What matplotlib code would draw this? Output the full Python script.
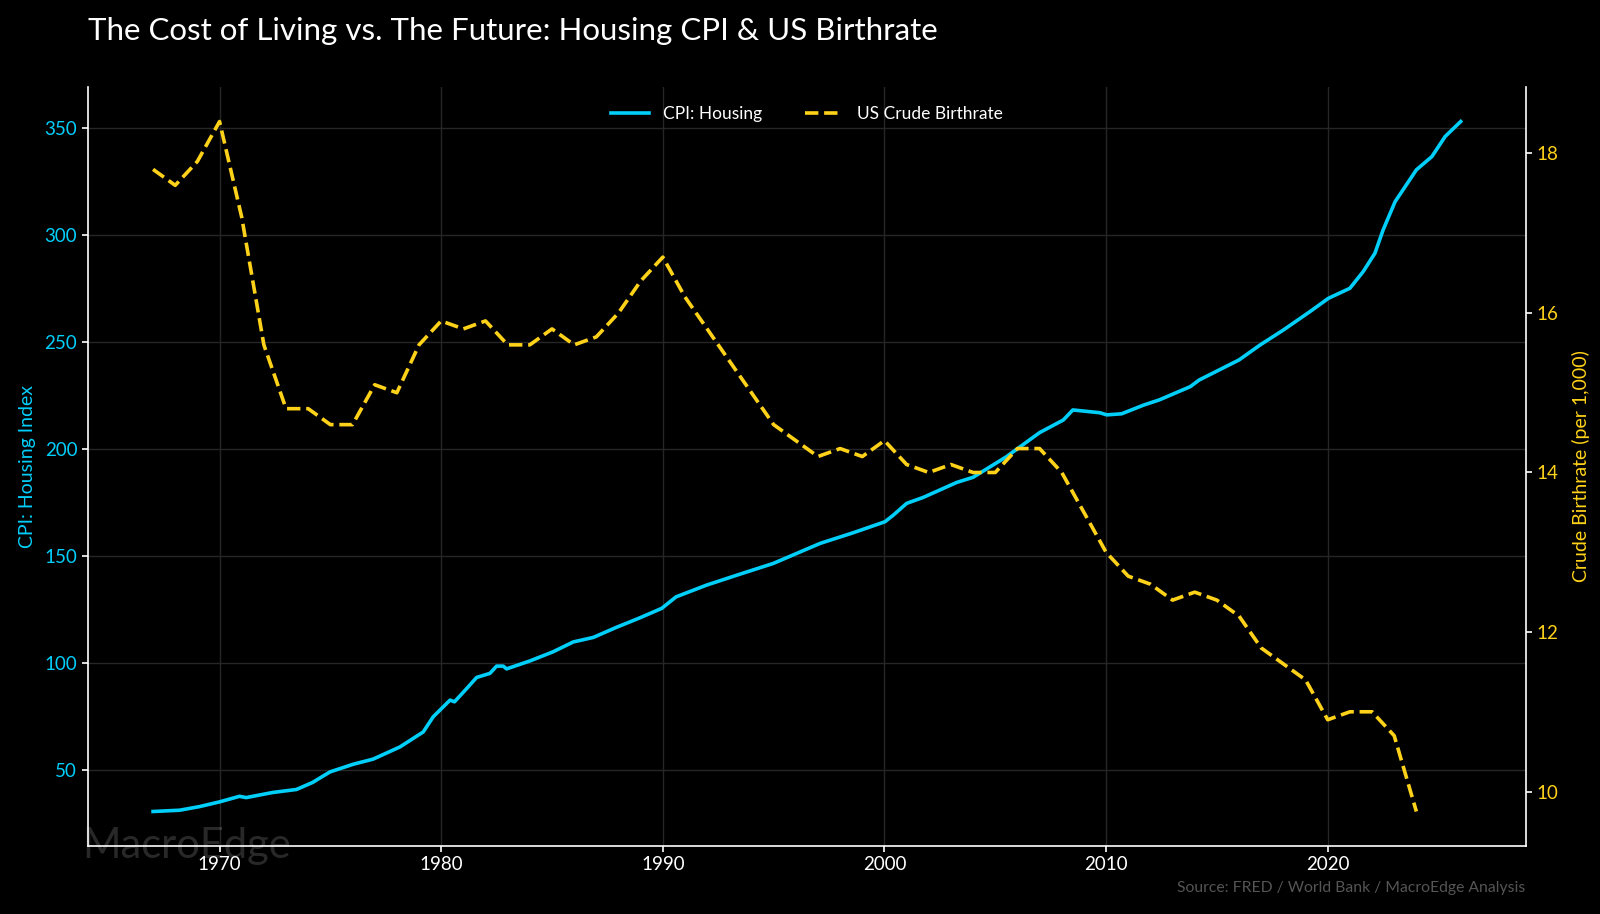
import matplotlib
matplotlib.use('Agg')
import matplotlib.pyplot as plt

plt.rcParams['font.family'] = ['Lato', 'DejaVu Sans']

# CPI: Housing (fractional years)
cpi_year = [1967.0, 1968.2, 1969.1, 1970.0, 1970.9, 1971.2, 1972.4, 1973.47, 1974.2, 1974.98,
            1976.03, 1976.93, 1978.14, 1979.19, 1979.64, 1980.4, 1980.6, 1981.15, 1981.6, 1982.2,
            1982.5, 1982.8, 1982.95, 1984.0, 1985.05, 1985.96, 1986.86, 1987.9, 1988.97, 1989.95,
            1990.6, 1991.98, 1993.48, 1994.98, 1997.1, 1998.6, 2000.02, 2000.4, 2001.0, 2001.75,
            2003.26, 2004.0, 2005.5, 2007.0, 2008.07, 2008.5, 2008.97, 2009.72, 2010.03, 2010.7,
            2011.7, 2012.4, 2013.8, 2014.2, 2016.0, 2016.95, 2018.0, 2019.2, 2020.03, 2021.0,
            2021.6, 2022.13, 2022.5, 2023.04, 2024.0, 2024.7, 2025.3, 2026.0]
cpi_value = [30.5, 31.1, 32.8, 35.0, 37.6, 37.0, 39.4, 40.8, 44.1, 49.0,
             52.6, 55.0, 60.7, 67.7, 74.8, 82.6, 81.8, 88.0, 93.2, 95.1,
             98.5, 98.5, 97.2, 100.9, 105.2, 109.8, 111.9, 116.6, 121.1, 125.5,
             130.9, 136.4, 141.5, 146.5, 155.9, 160.9, 166.0, 169.1, 174.6, 177.4,
             184.4, 186.8, 196.4, 207.7, 213.6, 218.3, 217.8, 217.0, 216.0, 216.5,
             220.6, 223.0, 229.2, 232.3, 241.7, 248.7, 255.7, 264.3, 270.5, 275.2,
             283.0, 291.6, 302.5, 315.7, 330.6, 336.8, 346.2, 353.2]

# US crude birthrate (per 1,000)
birth_year = list(range(1967, 2025))
birth_rate = [17.8, 17.6, 17.9, 18.4, 17.2, 15.6, 14.8, 14.8, 14.6, 14.6,
              15.1, 15.0, 15.6, 15.9, 15.8, 15.9, 15.6, 15.6, 15.8, 15.6,
              15.7, 16.0, 16.4, 16.7, 16.2, 15.8, 15.4, 15.0, 14.6, 14.4,
              14.2, 14.3, 14.2, 14.4, 14.1, 14.0, 14.1, 14.0, 14.0, 14.3,
              14.3, 14.0, 13.5, 13.0, 12.7, 12.6, 12.4, 12.5, 12.4, 12.2,
              11.8, 11.6, 11.4, 10.9, 11.0, 11.0, 10.7, 9.75]

cyan = '#00CFFA'
gold = '#FFD21A'

fig = plt.figure(figsize=(16, 9.14), dpi=100, facecolor='black')
ax = fig.add_subplot(111)
fig.subplots_adjust(left=0.0548, right=0.9538, bottom=0.0744, top=0.9048)
ax.set_facecolor('black')

l1, = ax.plot(cpi_year, cpi_value, color=cyan, lw=2.6, label='CPI: Housing', zorder=3)
ax.set_ylabel('CPI: Housing Index', color=cyan, fontsize=14, labelpad=6)
ax.tick_params(axis='y', colors='white', labelcolor=cyan, labelsize=13.5, length=4, width=1.2)
ax.tick_params(axis='x', colors='white', labelcolor='white', labelsize=13.5, length=4, width=1.2)
ax.grid(True, color='#262626', lw=1)
ax.set_axisbelow(True)

ax2 = ax.twinx()
l2, = ax2.plot(birth_year, birth_rate, color=gold, lw=2.6, ls='--', label='US Crude Birthrate')
ax2.set_ylabel('Crude Birthrate (per 1,000)', color=gold, fontsize=14, labelpad=10)
ax2.tick_params(axis='y', colors='white', labelcolor=gold, labelsize=13.5, length=4, width=1.2)
ax2.set_yticks([10, 12, 14, 16, 18])

for a in (ax, ax2):
    for s in a.spines.values():
        s.set_color('white')
        s.set_linewidth(1.2)
    a.spines['top'].set_visible(False)
ax.spines['right'].set_visible(False)
ax2.spines['left'].set_visible(False)
ax2.spines['bottom'].set_visible(False)

ax2.legend(handles=[l1, l2], loc='upper center', ncol=2, frameon=False,
           fontsize=12.5, labelcolor='white', handlelength=2.2, columnspacing=2.5,
           bbox_to_anchor=(0.5, 0.995))

fig.text(0.055, 0.966, 'The Cost of Living vs. The Future: Housing CPI & US Birthrate',
         color='white', fontsize=22.5, ha='left', va='center')
fig.text(0.953, 0.028, 'Source: FRED / World Bank / MacroEdge Analysis',
         color='#555555', fontsize=11.3, ha='right', va='center')
ax.text(-0.004, -0.016, 'MacroEdge', transform=ax.transAxes, color='white', alpha=0.16,
        fontsize=30, ha='left', va='baseline', zorder=1, clip_on=False)

fig.savefig('out.png', dpi=100, facecolor='black')
